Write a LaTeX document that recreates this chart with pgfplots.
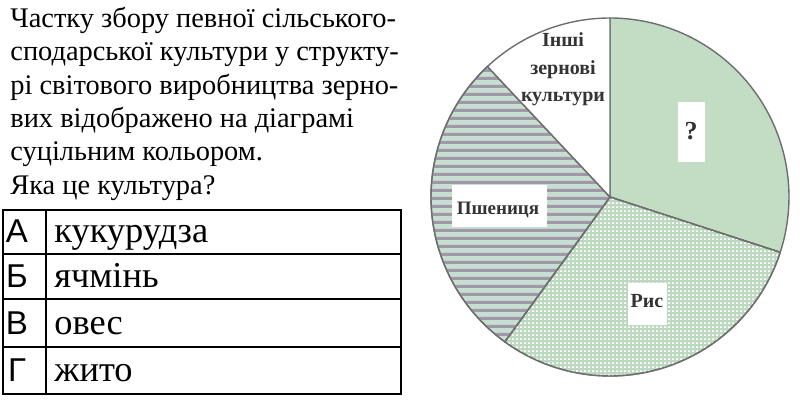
\documentclass[border=0pt]{standalone}
\usepackage{pgfplots}
\pgfplotsset{compat=1.18}
\usepackage{pgfplotstable}
\usetikzlibrary{patterns.meta}
\usepackage{fontspec}
\setmainfont{Liberation Serif}
\newfontfamily\serf{Liberation Serif}
\newfontfamily\sansf{Liberation Sans}

\definecolor{qgreen}{HTML}{C2DDC3}
\definecolor{ricebg}{HTML}{BCD9C0}
\definecolor{wheatbg}{HTML}{C6DFD0}
\definecolor{stripe}{HTML}{A097A8}
\definecolor{pieline}{HTML}{6E6E6E}

\tikzdeclarepattern{
  name=hstripes, type=uncolored,
  bounding box={(0pt,0pt) and (2pt,4pt)},
  tile size={(2pt,4pt)},
  code={\fill (0pt,0pt) rectangle (2pt,1.5pt);}
}
\tikzdeclarepattern{
  name=wdots, type=uncolored,
  bounding box={(0pt,0pt) and (2pt,2pt)},
  tile size={(2pt,2pt)},
  code={\fill (0pt,0pt) rectangle (1.1pt,0.8pt);}
}

\pgfplotstableread{
crop share
q 30
rice 30
wheat 28
other 12
}\piedata

\begin{document}
\begin{tikzpicture}[x=0.5pt,y=0.5pt]
\path[use as bounding box] (0,0) rectangle (800,400);
\coordinate (pc) at (610,203);

\pgfplotstablegetelem{0}{share}\of\piedata \pgfmathsetmacro\sA{\pgfplotsretval}
\pgfplotstablegetelem{1}{share}\of\piedata \pgfmathsetmacro\sB{\pgfplotsretval}
\pgfplotstablegetelem{2}{share}\of\piedata \pgfmathsetmacro\sC{\pgfplotsretval}
\pgfplotstablegetelem{3}{share}\of\piedata \pgfmathsetmacro\sD{\pgfplotsretval}
\pgfmathsetmacro\aO{90}
\pgfmathsetmacro\aA{\aO-3.6*\sA}
\pgfmathsetmacro\aB{\aA-3.6*\sB}
\pgfmathsetmacro\aC{\aB-3.6*\sC}
\pgfmathsetmacro\aD{\aC-3.6*\sD}

% pie
\begin{axis}[at={(pc)}, anchor=center, scale only axis,
  width=179pt, height=179pt, xmin=-1, xmax=1, ymin=-1, ymax=1,
  hide axis, clip=false]
\addplot[draw=pieline, line width=0.7pt, fill=qgreen, domain=\aA:\aO, samples=80, variable=\t]
  ({cos(\t)},{sin(\t)}) -- (axis cs:0,0) -- cycle;
\addplot[draw=pieline, line width=0.7pt, fill=ricebg, postaction={pattern=wdots, pattern color=white},
  domain=\aB:\aA, samples=80, variable=\t]
  ({cos(\t)},{sin(\t)}) -- (axis cs:0,0) -- cycle;
\addplot[draw=pieline, line width=0.7pt, fill=wheatbg, postaction={pattern=hstripes, pattern color=stripe},
  domain=\aC:\aB, samples=80, variable=\t]
  ({cos(\t)},{sin(\t)}) -- (axis cs:0,0) -- cycle;
\addplot[draw=pieline, line width=0.7pt, fill=white, domain=\aD:\aC, samples=60, variable=\t]
  ({cos(\t)},{sin(\t)}) -- (axis cs:0,0) -- cycle;
\end{axis}

% question text
\begin{scope}[every node/.style={inner sep=0pt, anchor=base west, font=\serf\fontsize{14.2}{16.7}\selectfont}]
\node at (10,372) {Частку збору певної сільського-};
\node at (10,339) {сподарської культури у структу-};
\node at (10,305) {рі світового виробництва зерно-};
\node at (10,272) {вих відображено на діаграмі};
\node at (10,239) {суцільним кольором.};
\node at (10,205) {Яка це культура?};
\end{scope}

% answer table
\draw[line width=0.6pt] (3,6) rectangle (401,190);
\draw[line width=0.6pt] (46,6) -- (46,190);
\draw[line width=0.6pt] (3,146) -- (401,146);
\draw[line width=0.6pt] (3,101) -- (401,101);
\draw[line width=0.6pt] (3,53) -- (401,53);
\begin{scope}[every node/.style={inner sep=0pt, anchor=base, font=\sansf\fontsize{16.5}{20}\selectfont}]
\node at (17,157) {А};
\node at (17,112) {Б};
\node at (17,65) {В};
\node at (17,18) {Г};
\end{scope}
\begin{scope}[every node/.style={inner sep=0pt, anchor=base west, font=\serf\fontsize{18.2}{21}\selectfont}]
\node at (54,157) {кукурудза};
\node at (54,112) {ячмінь};
\node at (54,65) {овес};
\node at (54,18) {жито};
\end{scope}

% labels inside pie
\fill[white] (678,238) rectangle (705,298);
\fill[white] (452,173) rectangle (547,215);
\fill[white] (628,75) rectangle (667,117);
\begin{scope}[every node/.style={inner sep=0pt, anchor=base, font=\serf\bfseries\fontsize{10}{12}\selectfont, text=black!80}]
\node at (563,353) {Інші};
\node at (563,325) {зернові};
\node at (563,298) {культури};
\node[font=\serf\bfseries\fontsize{9.5}{12}\selectfont] at (498,185) {Пшениця};
\node[font=\serf\bfseries\fontsize{13}{14}\selectfont] at (691,260) {?};
\node at (647,92) {Рис};
\end{scope}
\end{tikzpicture}
\end{document}
